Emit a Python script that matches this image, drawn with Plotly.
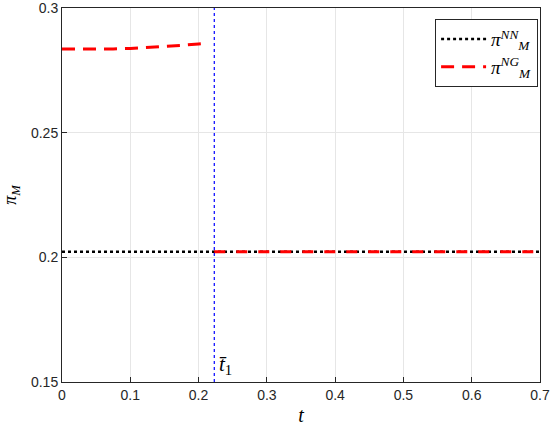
import plotly.graph_objects as go

# Data
t_curve = [0.0, 0.025, 0.05, 0.075, 0.1, 0.125, 0.15, 0.175, 0.2, 0.215]
pi_ng_curve = [0.2836, 0.2835, 0.2835, 0.2836, 0.2838, 0.2841, 0.2845, 0.2850, 0.2856, 0.2860]
t_flat = [0.0, 0.7]
pi_nn = [0.2022, 0.2022]
t_bar1 = 0.223
t_ng_flat = [0.223, 0.7]
pi_ng_flat = [0.2022, 0.2022]

x_ticks = [0, 0.1, 0.2, 0.3, 0.4, 0.5, 0.6, 0.7]
y_ticks = [0.15, 0.2, 0.25, 0.3]

fig = go.Figure()

fig.add_trace(go.Scatter(x=t_flat, y=pi_nn, mode="lines",
                         line=dict(color="black", width=2.5, dash="dot"),
                         name="<i>π</i><sup><i>NN</i></sup><sub><i>M</i></sub>"))
fig.add_trace(go.Scatter(x=t_curve, y=pi_ng_curve, mode="lines",
                         line=dict(color="red", width=3, dash="13px,8px"),
                         name="<i>π</i><sup><i>NG</i></sup><sub><i>M</i></sub>"))
fig.add_trace(go.Scatter(x=t_ng_flat, y=pi_ng_flat, mode="lines",
                         line=dict(color="red", width=3, dash="11px,11px"),
                         showlegend=False))
fig.add_trace(go.Scatter(x=[t_bar1, t_bar1], y=[0.15, 0.3], mode="lines",
                         line=dict(color="#0000ff", width=1.2, dash="dot"),
                         showlegend=False))

fig.add_annotation(x=t_bar1 + 0.004, y=0.15, yshift=2, xanchor="left", yanchor="bottom",
                   text="<i>t\u0304</i><sub>1</sub>", showarrow=False,
                   font=dict(family="Liberation Serif", size=21, color="black"))

axis_common = dict(showline=True, linecolor="#262626", linewidth=1, mirror=True,
                   ticks="inside", ticklen=5, tickcolor="#262626",
                   showgrid=True, gridcolor="#e6e6e6", gridwidth=1, zeroline=False,
                   automargin=False, ticklabeloverflow="allow",
                   tickfont=dict(family="Liberation Sans", size=14, color="#262626"))

fig.update_xaxes(range=[0, 0.7], tickvals=x_ticks,
                 ticktext=[str(v) for v in x_ticks],
                 title=dict(text="<i>t</i>", font=dict(family="Liberation Serif", size=20, color="black"),
                            standoff=6),
                 **axis_common)
fig.update_yaxes(range=[0.15, 0.3], tickvals=y_ticks,
                 ticktext=[str(v) for v in y_ticks],
                 title=dict(text="<i>π</i><sub><i>M</i></sub>", font=dict(family="Liberation Serif", size=18, color="black"),
                            standoff=14),
                 **axis_common)

fig.update_layout(
    width=550, height=433,
    margin=dict(l=62, r=10, t=8, b=51),
    plot_bgcolor="white", paper_bgcolor="white",
    legend=dict(x=0.996, y=0.97, xanchor="right", yanchor="top",
                bgcolor="white", bordercolor="#262626", borderwidth=1,
                font=dict(family="Liberation Serif", size=19, color="black"),
                itemwidth=45, tracegroupgap=0),
)

fig.write_html("out.html", config={"displayModeBar": False},
               post_script="document.body.style.margin='0';document.body.style.padding='0';")
